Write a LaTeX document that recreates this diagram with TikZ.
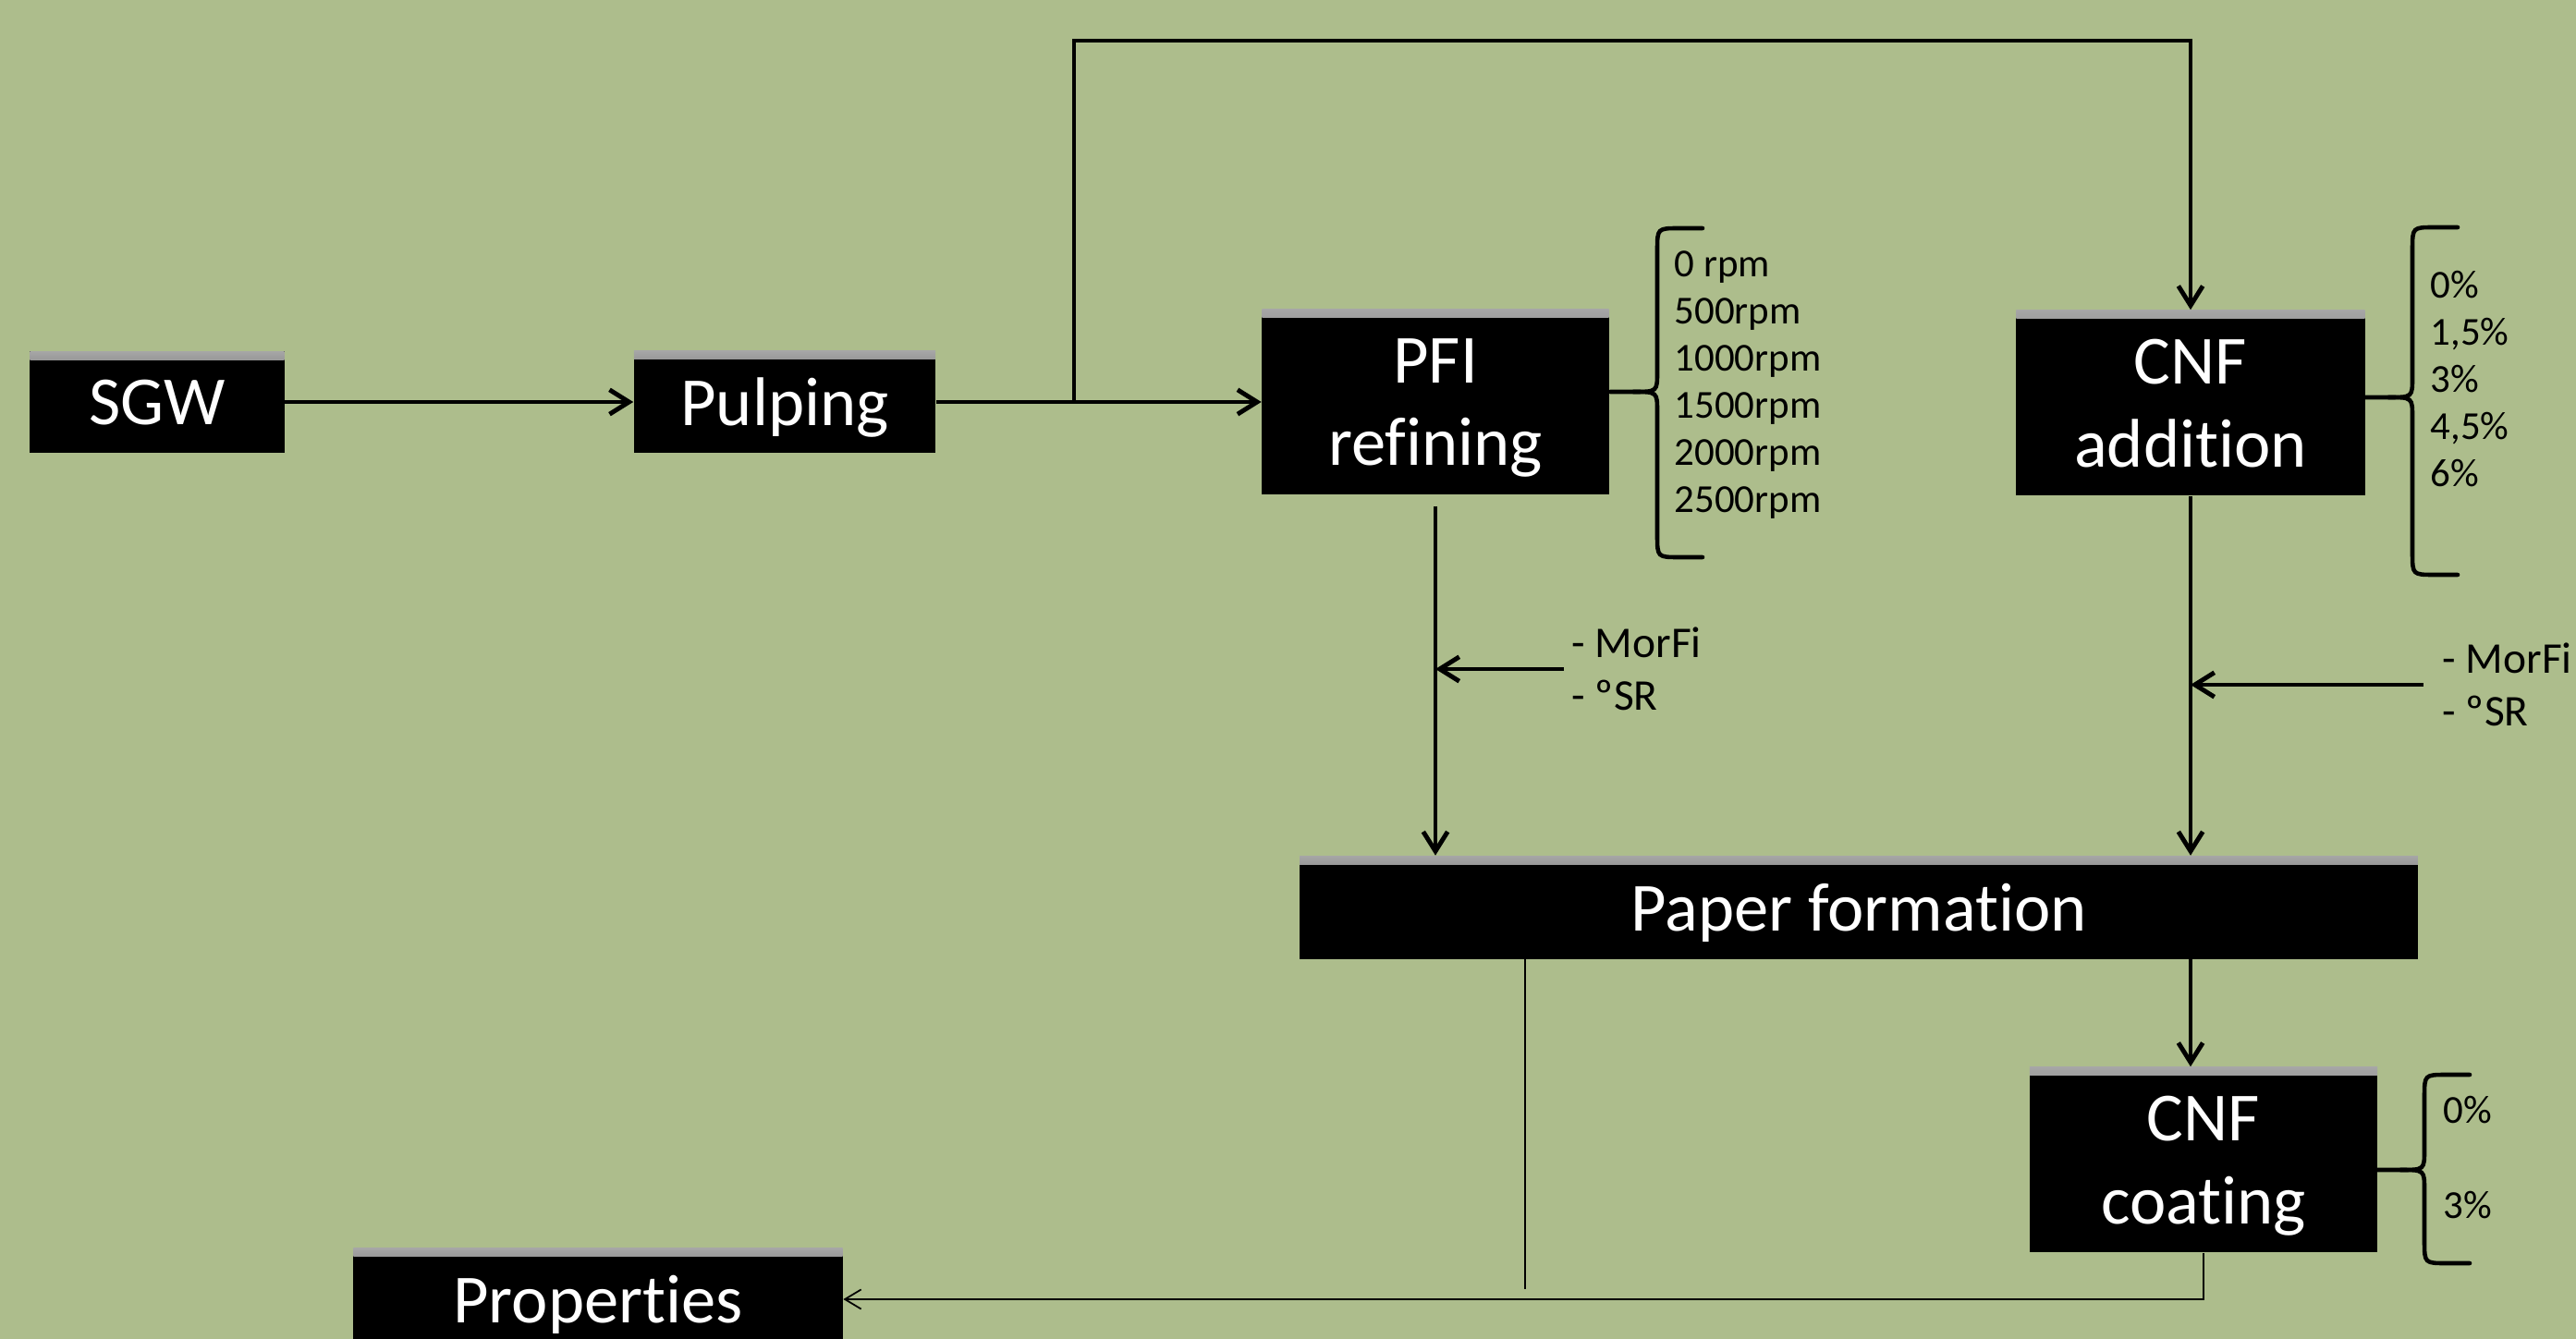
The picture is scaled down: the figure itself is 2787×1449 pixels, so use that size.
\documentclass[tikz,border=0pt]{standalone}
\usepackage{fontspec}
\setmainfont{Carlito}[Ligatures=NoCommon]
\usetikzlibrary{arrows.meta}
\definecolor{bggreen}{RGB}{173,189,140}
\tikzset{
	stage/.style={fill=black,text=white,align=center,inner sep=0pt,text depth=0pt,font=\fontsize{21.2}{25.5}\selectfont,
		path picture={\shade[top color=black!35,bottom color=black] (path picture bounding box.north west) rectangle ([yshift=-0.09cm]path picture bounding box.north east);}},
	flow/.style={line width=1.4pt,-{Straight Barb[length=6pt,width=7.5pt]}},
	thinflow/.style={line width=0.5pt,-{Straight Barb[length=5pt,width=6pt]}},
	bracket/.style={line width=1.3pt,line cap=round},
	levels/.style={align=left,anchor=west,inner sep=0pt,font=\fontsize{12.2}{14.5}\selectfont},
	tests/.style={align=left,anchor=west,inner sep=0pt,font=\fontsize{13.5}{16.2}\selectfont}
}
% tip x, top y, tip y, bottom y
\newcommand{\sidebrace}[4]{
	\draw[bracket] (#1+100,#2) -- (#1+75,#2) .. controls (#1+51,#2) .. (#1+51,#2+24) -- (#1+51,#3-22) .. controls (#1+51,#3) .. (#1+25,#3) -- (#1,#3);
	\draw[bracket] (#1+100,#4) -- (#1+75,#4) .. controls (#1+51,#4) .. (#1+51,#4-24) -- (#1+51,#3+22) .. controls (#1+51,#3) .. (#1+25,#3);
}
\begin{document}
\begin{tikzpicture}[x=0.01cm,y=-0.01cm]
		%Background
			\fill[bggreen] (0,0) rectangle (2787,1449);
			\useasboundingbox (0,0) rectangle (2787,1449);
		%Stages
			\node[stage,minimum width=2.75cm,minimum height=1.09cm] (sgw) at (170,435) {SGW};
			\node[stage,minimum width=3.26cm,minimum height=1.1cm] (pulping) at (849,435) {Pulping};
			\node[stage,minimum width=3.75cm,minimum height=2cm] (pfi) at (1553,435) {PFI\\refining};
			\node[stage,minimum width=3.77cm,minimum height=2cm] (cnfadd) at (2370,436) {CNF\\addition};
			\node[stage,minimum width=12.09cm,minimum height=1.11cm] (paper) at (2011,982) {Paper formation};
			\node[stage,minimum width=3.76cm,minimum height=2cm] (cnfcoat) at (2384,1255) {CNF\\coating};
			\node[stage,minimum width=5.29cm,minimum height=1.1cm] (props) at (647,1406) {Properties};
		%Flow
			\coordinate (split) at (1162,435);
			\coordinate (topturn) at (2370,44);
			\draw[flow] (sgw.east) -- (pulping.west);
			\draw[flow] (pulping.east) -- (pfi.west);
			\draw[flow] (split) |- (topturn) -- (cnfadd);
			\draw[flow] ([yshift=-0.12cm]pfi.south) -- (pfi.south |- paper.north);
			\draw[flow] (cnfadd) -- (cnfadd |- paper.north);
			\draw[flow] (cnfadd |- paper.south) -- (cnfadd |- cnfcoat.north);
		%Tests
			\node[tests] (morfi1) at (1700,724) {- MorFi\\- ºSR};
			\draw[flow] ([xshift=-0.08cm]morfi1.west) -- (morfi1.west -| pfi.south);
			\node[tests] (morfi2) at (2642,741) {- MorFi\\- ºSR};
			\draw[flow] ([xshift=-0.2cm]morfi2.west) -- (morfi2.west -| cnfadd.south);
		%Levels
			\sidebrace{1742}{247}{424}{603}
			\node[levels] (rpm) at (1811,417) {0 rpm\\500rpm\\1000rpm\\1500rpm\\2000rpm\\2500rpm};
			\sidebrace{2559}{246}{430}{622}
			\node[levels] (addlev) at (2629,410) {0\%\\1,5\%\\3\%\\4,5\%\\6\%};
			\sidebrace{2572}{1163}{1266}{1367}
			\node[levels] (coat0) at (2643,1201) {0\%};
			\node[levels] (coat3) at (2643,1304) {3\%};
		%Results
			\coordinate (sample) at (1650,1395);
			\draw[line width=0.5pt] (sample |- paper.south) -- (sample);
			\draw[thinflow] (cnfcoat.south) |- (props.east);
	\end{tikzpicture}
\end{document}
